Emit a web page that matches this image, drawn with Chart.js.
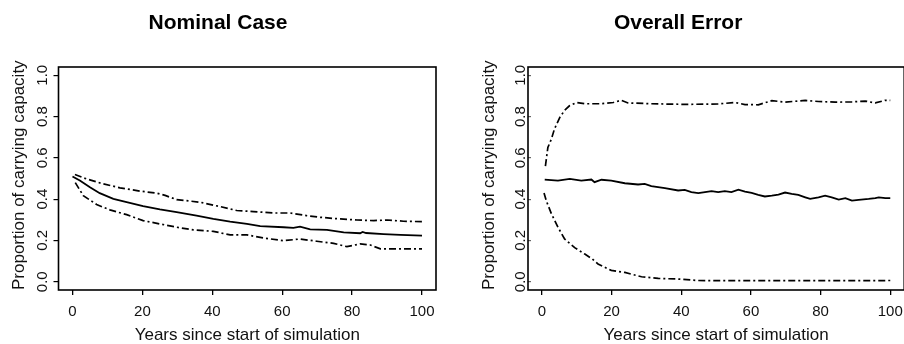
<!DOCTYPE html>
<html>
<head>
<meta charset="utf-8">
<script src="https://cdn.jsdelivr.net/npm/chart.js@4"></script>
<style>
html,body{margin:0;padding:0;background:#fff;width:904px;height:344px;overflow:hidden;position:relative}
canvas{position:absolute;top:0}
#c1{left:0}
#c2{left:452px}
</style>
</head>
<body>
<canvas id="c1" width="507" height="344"></canvas>
<canvas id="c2" width="542" height="344"></canvas>
<script>
// ---- text ----
const panelTitles = ['Nominal Case', 'Overall Error'];
const xTitle = 'Years since start of simulation';
const yTitle = 'Proportion of carrying capacity';
const xTicks = [0, 20, 40, 60, 80, 100];
const yTicks = [0, 0.2, 0.4, 0.6, 0.8, 1.0];

// ---- Nominal Case ----
const nominalMedianYears = [0, 2.1, 5, 7.8, 11.7, 15.5, 20.2, 25, 29.8, 35.5, 40.3, 45.1, 49.9, 53.7, 60.4, 63.2, 65.1, 68, 72.8, 77.6, 82.3, 83, 84, 89, 93.8, 100];
const nominalMedian = [0.51, 0.49, 0.458, 0.429, 0.401, 0.385, 0.366, 0.35, 0.337, 0.32, 0.304, 0.291, 0.28, 0.269, 0.264, 0.261, 0.267, 0.254, 0.251, 0.239, 0.235, 0.241, 0.236, 0.231, 0.227, 0.223];

const nominalUpperYears = [0.7, 4, 8.8, 13.6, 19.3, 24.1, 26.5, 29.8, 36.5, 42.2, 47, 51.8, 57.5, 62.3, 67, 70.9, 76.6, 81.4, 86.2, 90, 94.7, 100];
const nominalUpper = [0.519, 0.498, 0.474, 0.455, 0.439, 0.429, 0.418, 0.398, 0.385, 0.364, 0.345, 0.34, 0.333, 0.333, 0.32, 0.312, 0.304, 0.299, 0.296, 0.299, 0.293, 0.291];

const nominalLowerYears = [0.8, 3.1, 6.9, 10.7, 15.5, 20.2, 25, 29.8, 34.6, 40.3, 45.1, 49.9, 54.6, 60.4, 65.1, 69.9, 74.7, 78.5, 82.3, 85.2, 88.1, 93.8, 100];
const nominalLower = [0.48, 0.417, 0.374, 0.348, 0.325, 0.296, 0.28, 0.264, 0.251, 0.244, 0.227, 0.227, 0.212, 0.199, 0.207, 0.196, 0.186, 0.17, 0.183, 0.178, 0.159, 0.159, 0.159];

// ---- Overall Error ----
const errorMedianYears = [0.8, 4.6, 8, 11.3, 14.2, 15.1, 17.1, 19.9, 23.8, 27.6, 29.5, 31.4, 35.3, 39.1, 41, 42.9, 44.9, 46.8, 48.7, 50.6, 52.5, 54.4, 56.4, 58.3, 60.2, 62.1, 64, 66, 67.9, 69.8, 71.7, 73.6, 75.6, 77, 79.4, 81.3, 83.2, 85.2, 87.1, 89, 90.9, 93.8, 95.7, 96.7, 98.6, 100];
const errorMedian = [0.495, 0.49, 0.498, 0.49, 0.495, 0.482, 0.494, 0.49, 0.477, 0.471, 0.474, 0.463, 0.453, 0.442, 0.445, 0.434, 0.429, 0.434, 0.439, 0.434, 0.439, 0.434, 0.446, 0.437, 0.43, 0.421, 0.413, 0.417, 0.422, 0.432, 0.426, 0.421, 0.409, 0.401, 0.409, 0.417, 0.409, 0.398, 0.405, 0.393, 0.396, 0.401, 0.405, 0.409, 0.405, 0.405];

const errorUpperYears = [1, 1.7, 2.7, 3.6, 5.1, 6.5, 7.9, 9.9, 12.3, 17.1, 20.5, 22.8, 24.7, 31.4, 41, 50.6, 55.4, 58.3, 62.1, 66, 69.8, 75.6, 79.4, 84.2, 89, 92.8, 95.7, 98.6, 100];
const errorUpper = [0.56, 0.65, 0.69, 0.74, 0.795, 0.83, 0.852, 0.868, 0.862, 0.862, 0.868, 0.879, 0.866, 0.862, 0.859, 0.861, 0.868, 0.858, 0.857, 0.877, 0.87, 0.878, 0.873, 0.87, 0.871, 0.875, 0.866, 0.879, 0.878];

const errorLowerYears = [0.6, 1.3, 2.7, 4.6, 6.5, 9.4, 12.3, 14.5, 16.1, 19.9, 23.8, 28.6, 33.4, 39.1, 44.9, 50, 60, 70, 80, 90, 100];
const errorLower = [0.43, 0.39, 0.33, 0.264, 0.207, 0.165, 0.134, 0.11, 0.086, 0.055, 0.045, 0.024, 0.016, 0.013, 0.006, 0.005, 0.005, 0.005, 0.005, 0.005, 0.006];

// ---- rendering ----
const FAMILY = "'Liberation Sans', Arial, Helvetica, sans-serif";
const pts = (xs, ys) => xs.map((x, i) => ({x: x, y: ys[i]}));

const boxPlugin = {
  id: 'box',
  afterDatasetsDraw(chart) {
    const {ctx, chartArea: a} = chart;
    ctx.save();
    ctx.strokeStyle = '#000';
    ctx.lineWidth = 1.6;
    ctx.strokeRect(a.left, a.top, a.right - a.left, a.bottom - a.top);
    ctx.restore();
  }
};

function lineDs(data, dashed) {
  return {
    data: data,
    borderColor: '#000',
    borderWidth: dashed ? 1.7 : 1.8,
    borderDash: dashed ? [7, 3, 2, 3] : [],
    pointRadius: 0,
    tension: 0,
    fill: false
  };
}

function makeChart(id, title, median, upper, lower, cfg) {
  new Chart(document.getElementById(id), {
    type: 'line',
    data: { datasets: [lineDs(median, false), lineDs(upper, true), lineDs(lower, true)] },
    options: {
      responsive: false,
      animation: false,
      devicePixelRatio: 1,
      events: [],
      layout: { padding: { left: 0, right: cfg.padRight, top: 0, bottom: 0 } },
      plugins: {
        legend: { display: false },
        tooltip: { enabled: false },
        title: {
          display: true, text: title, color: '#000', fullSize: true,
          font: { family: FAMILY, size: 21, weight: 'bold' },
          padding: { top: 10.4, bottom: 31.4 }
        }
      },
      scales: {
        x: {
          type: 'linear', min: -4, max: 104,
          afterBuildTicks: s => { s.ticks = xTicks.map(v => ({value: v})); },
          afterFit: s => { s.height = 54; },
          grid: { display: true, drawOnChartArea: false, drawTicks: true, tickLength: 5, color: '#000', lineWidth: 1.3 },
          border: { display: false },
          ticks: { autoSkip: false, minRotation: 0, maxRotation: 0, padding: 7.5, color: '#111',
                   font: { family: FAMILY, size: 15 }, callback: v => String(v) },
          title: { display: true, text: xTitle, color: '#111', padding: { top: 0, bottom: -2 },
                   font: { family: FAMILY, size: 17 } }
        },
        y: {
          type: 'linear', min: -0.04, max: 1.04,
          afterBuildTicks: s => { s.ticks = yTicks.map(v => ({value: v})); },
          afterFit: s => { s.width = cfg.yWidth; },
          grid: { display: true, drawOnChartArea: false, drawTicks: true, tickLength: cfg.yTick, color: cfg.yTickColor, lineWidth: 1.2 },
          border: { display: false },
          ticks: { autoSkip: false, minRotation: 90, maxRotation: 90, crossAlign: 'center', padding: cfg.yPad,
                   color: '#111', font: { family: FAMILY, size: 15 }, callback: v => Number(v).toFixed(1) },
          title: { display: true, text: yTitle, align: 'start', color: '#111', padding: { top: cfg.yTitlePad, bottom: 0 },
                   font: { family: FAMILY, size: 17 } }
        }
      }
    },
    plugins: [boxPlugin]
  });
}

makeChart('c1', panelTitles[0],
  pts(nominalMedianYears, nominalMedian), pts(nominalUpperYears, nominalUpper), pts(nominalLowerYears, nominalLower),
  { padRight: 71, yWidth: 58.5, yTick: 5, yTickColor: '#000', yPad: 0, yTitlePad: 9.3 });

makeChart('c2', panelTitles[1],
  pts(errorMedianYears, errorMedian), pts(errorUpperYears, errorUpper), pts(errorLowerYears, errorLower),
  { padRight: 89.8, yWidth: 76, yTick: -3, yTickColor: '#666', yPad: 0, yTitlePad: 27.6 });
</script>
</body>
</html>
